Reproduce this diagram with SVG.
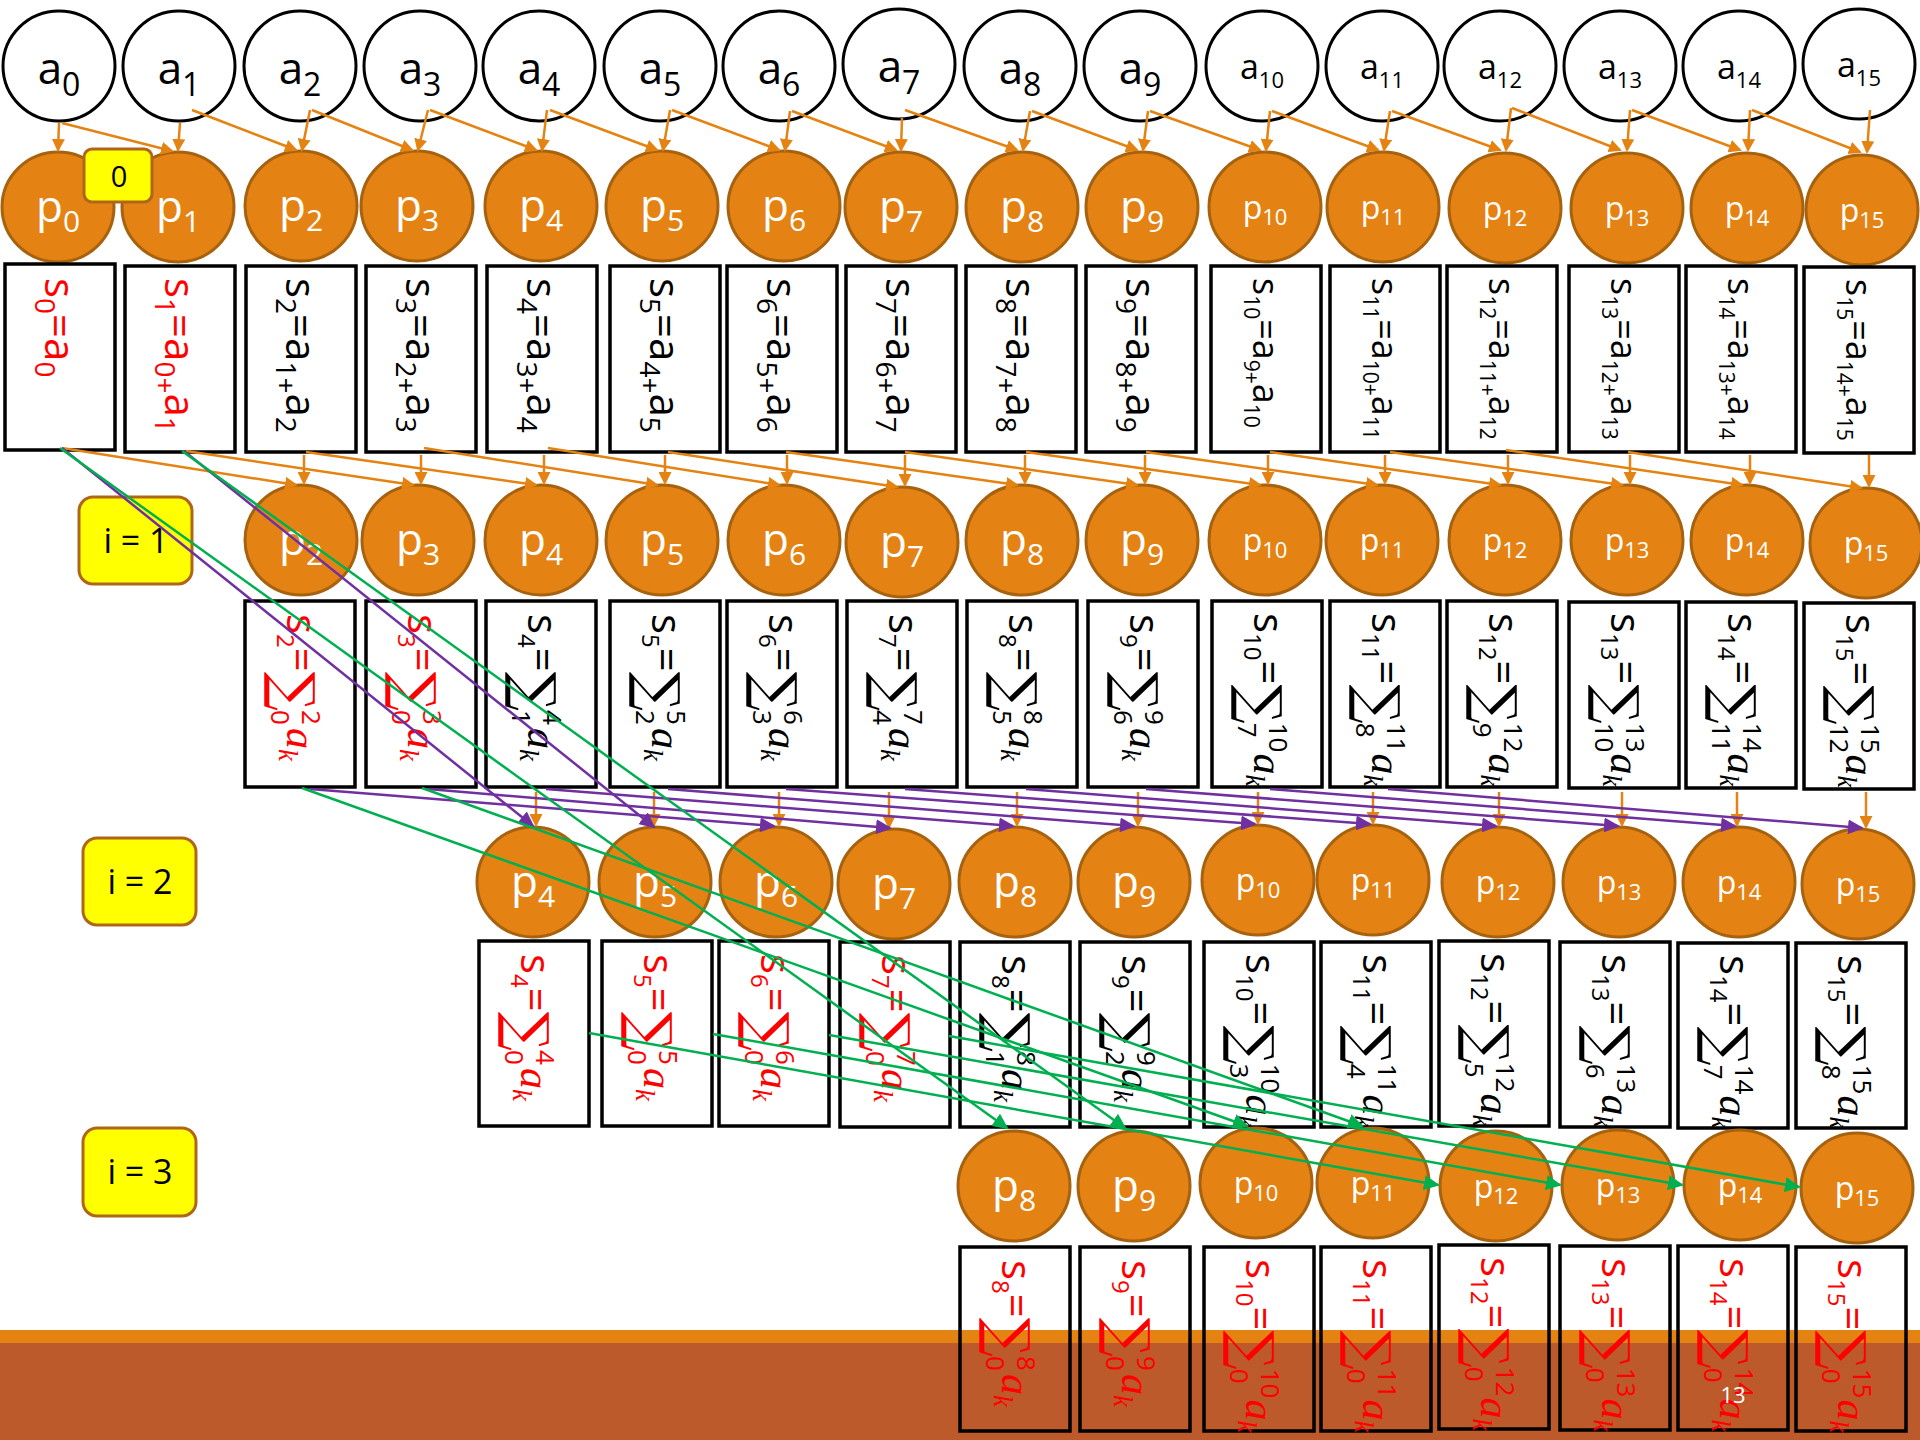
<svg xmlns="http://www.w3.org/2000/svg" width="1920" height="1440" viewBox="0 0 1920 1440">
<defs>
<style>
text{font-family:"Open Sans","Liberation Sans",sans-serif}
.ac{fill:#fff;stroke:#000;stroke-width:3}
.pc{fill:#E48314;stroke:#A6620F;stroke-width:3}
.bx{fill:none;stroke:#000;stroke-width:3.5}
.yl{fill:#FFFF00;stroke:#B0661A;stroke-width:3}
.ta{font-size:44px;fill:#000;text-anchor:middle}
.ta .s{font-size:32px}
.ta2{font-size:34px;fill:#000;text-anchor:middle}
.ta2 .s{font-size:22px}
.tp{font-size:44px;fill:#fff;text-anchor:middle}
.tp .s{font-size:30px}
.tp2{font-size:32px;fill:#fff;text-anchor:middle}
.tp2 .s{font-size:22px}
.r1{font-size:42px;fill:#000}
.r1 .sb{font-size:28px}
.r1b{font-size:36px;fill:#000}
.r1b .sb{font-size:21px}
.sm{font-size:42px;fill:#000}
.sm .sb{font-size:24px}
.sm .lm{font-size:26px}
.red{fill:#F00}
.sg{font-family:"DejaVu Serif",serif;font-size:55px}
.ai{font-family:"Liberation Serif",serif;font-style:italic;font-size:42px}
.ki{font-family:"Liberation Serif",serif;font-style:italic;font-size:27px}
.yt{font-size:34px;fill:#000;text-anchor:middle}
.co{fill:none;stroke:#E48312;stroke-width:2.5;marker-end:url(#mo)}
.cp{fill:none;stroke:#7030A0;stroke-width:2.5;marker-end:url(#mp)}
.cg{fill:none;stroke:#00B050;stroke-width:2.5;marker-end:url(#mg)}
</style>
<marker id="mo" viewBox="0 0 13 13" refX="11" refY="6.5" markerWidth="13" markerHeight="13" markerUnits="userSpaceOnUse" orient="auto"><path d="M0,0 L13,6.5 L0,13 z" fill="#E48312"/></marker>
<marker id="mp" viewBox="0 0 16 15" refX="14" refY="7.5" markerWidth="16" markerHeight="15" markerUnits="userSpaceOnUse" orient="auto"><path d="M0,0 L16,7.5 L0,15 z" fill="#7030A0"/></marker>
<marker id="mg" viewBox="0 0 16 15" refX="14" refY="7.5" markerWidth="16" markerHeight="15" markerUnits="userSpaceOnUse" orient="auto"><path d="M0,0 L16,7.5 L0,15 z" fill="#00B050"/></marker>
</defs>
<rect x="0" y="0" width="1920" height="1440" fill="#fff"/>
<g id="footer">
<rect x="0" y="1330" width="1920" height="14" fill="#E48312"/>
<rect x="0" y="1343" width="1920" height="97" fill="#BC5A2B"/>
</g>

<g id="row-a">
<g id="a0"><ellipse class="ac" cx="59" cy="66" rx="56" ry="55"/><text class="ta" x="59" y="84">a<tspan class="s" dy="12">0</tspan></text></g>
<g id="a1"><ellipse class="ac" cx="179" cy="66" rx="56" ry="55"/><text class="ta" x="179" y="84">a<tspan class="s" dy="12">1</tspan></text></g>
<g id="a2"><ellipse class="ac" cx="300" cy="66" rx="56" ry="55"/><text class="ta" x="300" y="84">a<tspan class="s" dy="12">2</tspan></text></g>
<g id="a3"><ellipse class="ac" cx="420" cy="66" rx="56" ry="55"/><text class="ta" x="420" y="84">a<tspan class="s" dy="12">3</tspan></text></g>
<g id="a4"><ellipse class="ac" cx="539" cy="66" rx="56" ry="55"/><text class="ta" x="539" y="84">a<tspan class="s" dy="12">4</tspan></text></g>
<g id="a5"><ellipse class="ac" cx="660" cy="66" rx="56" ry="55"/><text class="ta" x="660" y="84">a<tspan class="s" dy="12">5</tspan></text></g>
<g id="a6"><ellipse class="ac" cx="779" cy="66" rx="56" ry="55"/><text class="ta" x="779" y="84">a<tspan class="s" dy="12">6</tspan></text></g>
<g id="a7"><ellipse class="ac" cx="899" cy="64" rx="56" ry="55"/><text class="ta" x="899" y="82">a<tspan class="s" dy="12">7</tspan></text></g>
<g id="a8"><ellipse class="ac" cx="1020" cy="66" rx="56" ry="55"/><text class="ta" x="1020" y="84">a<tspan class="s" dy="12">8</tspan></text></g>
<g id="a9"><ellipse class="ac" cx="1140" cy="66" rx="56" ry="55"/><text class="ta" x="1140" y="84">a<tspan class="s" dy="12">9</tspan></text></g>
<g id="a10"><ellipse class="ac" cx="1262" cy="66" rx="56" ry="55"/><text class="ta2" x="1262" y="79">a<tspan class="s" dy="9">10</tspan></text></g>
<g id="a11"><ellipse class="ac" cx="1382" cy="66" rx="56" ry="55"/><text class="ta2" x="1382" y="79">a<tspan class="s" dy="9">11</tspan></text></g>
<g id="a12"><ellipse class="ac" cx="1500" cy="66" rx="56" ry="55"/><text class="ta2" x="1500" y="79">a<tspan class="s" dy="9">12</tspan></text></g>
<g id="a13"><ellipse class="ac" cx="1620" cy="66" rx="56" ry="55"/><text class="ta2" x="1620" y="79">a<tspan class="s" dy="9">13</tspan></text></g>
<g id="a14"><ellipse class="ac" cx="1739" cy="66" rx="56" ry="55"/><text class="ta2" x="1739" y="79">a<tspan class="s" dy="9">14</tspan></text></g>
<g id="a15"><ellipse class="ac" cx="1859" cy="64" rx="56" ry="55"/><text class="ta2" x="1859" y="77">a<tspan class="s" dy="9">15</tspan></text></g>
</g>

<g id="row0-p">
<g id="p0-0"><ellipse class="pc" cx="58" cy="207" rx="56" ry="55"/><text class="tp" x="58" y="222">p<tspan class="s" dy="10">0</tspan></text></g>
<g id="p0-1"><ellipse class="pc" cx="178" cy="207" rx="56" ry="55"/><text class="tp" x="178" y="222">p<tspan class="s" dy="10">1</tspan></text></g>
<g id="p0-2"><ellipse class="pc" cx="301" cy="206" rx="56" ry="55"/><text class="tp" x="301" y="221">p<tspan class="s" dy="10">2</tspan></text></g>
<g id="p0-3"><ellipse class="pc" cx="417" cy="206" rx="56" ry="55"/><text class="tp" x="417" y="221">p<tspan class="s" dy="10">3</tspan></text></g>
<g id="p0-4"><ellipse class="pc" cx="541" cy="206" rx="56" ry="55"/><text class="tp" x="541" y="221">p<tspan class="s" dy="10">4</tspan></text></g>
<g id="p0-5"><ellipse class="pc" cx="662" cy="206" rx="56" ry="55"/><text class="tp" x="662" y="221">p<tspan class="s" dy="10">5</tspan></text></g>
<g id="p0-6"><ellipse class="pc" cx="784" cy="206" rx="56" ry="55"/><text class="tp" x="784" y="221">p<tspan class="s" dy="10">6</tspan></text></g>
<g id="p0-7"><ellipse class="pc" cx="901" cy="207" rx="56" ry="55"/><text class="tp" x="901" y="222">p<tspan class="s" dy="10">7</tspan></text></g>
<g id="p0-8"><ellipse class="pc" cx="1022" cy="207" rx="56" ry="55"/><text class="tp" x="1022" y="222">p<tspan class="s" dy="10">8</tspan></text></g>
<g id="p0-9"><ellipse class="pc" cx="1142" cy="207" rx="56" ry="55"/><text class="tp" x="1142" y="222">p<tspan class="s" dy="10">9</tspan></text></g>
<g id="p0-10"><ellipse class="pc" cx="1265" cy="207" rx="56" ry="55"/><text class="tp2" x="1265" y="219">p<tspan class="s" dy="6">10</tspan></text></g>
<g id="p0-11"><ellipse class="pc" cx="1383" cy="207" rx="56" ry="55"/><text class="tp2" x="1383" y="219">p<tspan class="s" dy="6">11</tspan></text></g>
<g id="p0-12"><ellipse class="pc" cx="1505" cy="208" rx="56" ry="55"/><text class="tp2" x="1505" y="220">p<tspan class="s" dy="6">12</tspan></text></g>
<g id="p0-13"><ellipse class="pc" cx="1627" cy="208" rx="56" ry="55"/><text class="tp2" x="1627" y="220">p<tspan class="s" dy="6">13</tspan></text></g>
<g id="p0-14"><ellipse class="pc" cx="1747" cy="208" rx="56" ry="55"/><text class="tp2" x="1747" y="220">p<tspan class="s" dy="6">14</tspan></text></g>
<g id="p0-15"><ellipse class="pc" cx="1862" cy="210" rx="56" ry="55"/><text class="tp2" x="1862" y="222">p<tspan class="s" dy="6">15</tspan></text></g>
</g>

<g id="row0-s">
<g id="s0-0"><rect class="bx" x="5" y="264" width="110" height="186"/><text class="r1 red" transform="translate(45,278) rotate(90)">s<tspan class="sb" y="10">0</tspan><tspan y="0">=a</tspan><tspan class="sb" y="10">0</tspan></text></g>
<g id="s0-1"><rect class="bx" x="125" y="266" width="110" height="186"/><text class="r1 red" transform="translate(165,278) rotate(90)">s<tspan class="sb" y="10">1</tspan><tspan y="0">=a</tspan><tspan class="sb" y="10">0+</tspan><tspan y="0">a</tspan><tspan class="sb" y="10">1</tspan></text></g>
<g id="s0-2"><rect class="bx" x="246" y="266" width="110" height="186"/><text class="r1" transform="translate(286,278) rotate(90)">s<tspan class="sb" y="10">2</tspan><tspan y="0">=a</tspan><tspan class="sb" y="10">1+</tspan><tspan y="0">a</tspan><tspan class="sb" y="10">2</tspan></text></g>
<g id="s0-3"><rect class="bx" x="366" y="266" width="110" height="186"/><text class="r1" transform="translate(406,278) rotate(90)">s<tspan class="sb" y="10">3</tspan><tspan y="0">=a</tspan><tspan class="sb" y="10">2+</tspan><tspan y="0">a</tspan><tspan class="sb" y="10">3</tspan></text></g>
<g id="s0-4"><rect class="bx" x="487" y="266" width="110" height="186"/><text class="r1" transform="translate(527,278) rotate(90)">s<tspan class="sb" y="10">4</tspan><tspan y="0">=a</tspan><tspan class="sb" y="10">3+</tspan><tspan y="0">a</tspan><tspan class="sb" y="10">4</tspan></text></g>
<g id="s0-5"><rect class="bx" x="610" y="266" width="110" height="186"/><text class="r1" transform="translate(650,278) rotate(90)">s<tspan class="sb" y="10">5</tspan><tspan y="0">=a</tspan><tspan class="sb" y="10">4+</tspan><tspan y="0">a</tspan><tspan class="sb" y="10">5</tspan></text></g>
<g id="s0-6"><rect class="bx" x="727" y="266" width="110" height="186"/><text class="r1" transform="translate(767,278) rotate(90)">s<tspan class="sb" y="10">6</tspan><tspan y="0">=a</tspan><tspan class="sb" y="10">5+</tspan><tspan y="0">a</tspan><tspan class="sb" y="10">6</tspan></text></g>
<g id="s0-7"><rect class="bx" x="846" y="266" width="110" height="186"/><text class="r1" transform="translate(886,278) rotate(90)">s<tspan class="sb" y="10">7</tspan><tspan y="0">=a</tspan><tspan class="sb" y="10">6+</tspan><tspan y="0">a</tspan><tspan class="sb" y="10">7</tspan></text></g>
<g id="s0-8"><rect class="bx" x="966" y="266" width="110" height="186"/><text class="r1" transform="translate(1006,278) rotate(90)">s<tspan class="sb" y="10">8</tspan><tspan y="0">=a</tspan><tspan class="sb" y="10">7+</tspan><tspan y="0">a</tspan><tspan class="sb" y="10">8</tspan></text></g>
<g id="s0-9"><rect class="bx" x="1086" y="266" width="110" height="186"/><text class="r1" transform="translate(1126,278) rotate(90)">s<tspan class="sb" y="10">9</tspan><tspan y="0">=a</tspan><tspan class="sb" y="10">8+</tspan><tspan y="0">a</tspan><tspan class="sb" y="10">9</tspan></text></g>
<g id="s0-10"><rect class="bx" x="1211" y="266" width="110" height="186"/><text class="r1b" transform="translate(1253,278) rotate(90)">s<tspan class="sb" y="9">10</tspan><tspan y="0">=a</tspan><tspan class="sb" y="9">9+</tspan><tspan y="0">a</tspan><tspan class="sb" y="9">10</tspan></text></g>
<g id="s0-11"><rect class="bx" x="1330" y="266" width="110" height="186"/><text class="r1b" transform="translate(1372,278) rotate(90)">s<tspan class="sb" y="9">11</tspan><tspan y="0">=a</tspan><tspan class="sb" y="9">10+</tspan><tspan y="0">a</tspan><tspan class="sb" y="9">11</tspan></text></g>
<g id="s0-12"><rect class="bx" x="1447" y="266" width="110" height="186"/><text class="r1b" transform="translate(1489,278) rotate(90)">s<tspan class="sb" y="9">12</tspan><tspan y="0">=a</tspan><tspan class="sb" y="9">11+</tspan><tspan y="0">a</tspan><tspan class="sb" y="9">12</tspan></text></g>
<g id="s0-13"><rect class="bx" x="1569" y="266" width="110" height="186"/><text class="r1b" transform="translate(1611,278) rotate(90)">s<tspan class="sb" y="9">13</tspan><tspan y="0">=a</tspan><tspan class="sb" y="9">12+</tspan><tspan y="0">a</tspan><tspan class="sb" y="9">13</tspan></text></g>
<g id="s0-14"><rect class="bx" x="1686" y="266" width="110" height="186"/><text class="r1b" transform="translate(1728,278) rotate(90)">s<tspan class="sb" y="9">14</tspan><tspan y="0">=a</tspan><tspan class="sb" y="9">13+</tspan><tspan y="0">a</tspan><tspan class="sb" y="9">14</tspan></text></g>
<g id="s0-15"><rect class="bx" x="1804" y="267" width="110" height="186"/><text class="r1b" transform="translate(1846,279) rotate(90)">s<tspan class="sb" y="9">15</tspan><tspan y="0">=a</tspan><tspan class="sb" y="9">14+</tspan><tspan y="0">a</tspan><tspan class="sb" y="9">15</tspan></text></g>
</g>

<g id="row1-p">
<g id="p1-2"><ellipse class="pc" cx="301" cy="540" rx="56" ry="55"/><text class="tp" x="301" y="555">p<tspan class="s" dy="10">2</tspan></text></g>
<g id="p1-3"><ellipse class="pc" cx="418" cy="540" rx="56" ry="55"/><text class="tp" x="418" y="555">p<tspan class="s" dy="10">3</tspan></text></g>
<g id="p1-4"><ellipse class="pc" cx="541" cy="540" rx="56" ry="55"/><text class="tp" x="541" y="555">p<tspan class="s" dy="10">4</tspan></text></g>
<g id="p1-5"><ellipse class="pc" cx="662" cy="540" rx="56" ry="55"/><text class="tp" x="662" y="555">p<tspan class="s" dy="10">5</tspan></text></g>
<g id="p1-6"><ellipse class="pc" cx="784" cy="540" rx="56" ry="55"/><text class="tp" x="784" y="555">p<tspan class="s" dy="10">6</tspan></text></g>
<g id="p1-7"><ellipse class="pc" cx="902" cy="542" rx="56" ry="55"/><text class="tp" x="902" y="557">p<tspan class="s" dy="10">7</tspan></text></g>
<g id="p1-8"><ellipse class="pc" cx="1022" cy="540" rx="56" ry="55"/><text class="tp" x="1022" y="555">p<tspan class="s" dy="10">8</tspan></text></g>
<g id="p1-9"><ellipse class="pc" cx="1142" cy="540" rx="56" ry="55"/><text class="tp" x="1142" y="555">p<tspan class="s" dy="10">9</tspan></text></g>
<g id="p1-10"><ellipse class="pc" cx="1265" cy="540" rx="56" ry="55"/><text class="tp2" x="1265" y="552">p<tspan class="s" dy="6">10</tspan></text></g>
<g id="p1-11"><ellipse class="pc" cx="1382" cy="540" rx="56" ry="55"/><text class="tp2" x="1382" y="552">p<tspan class="s" dy="6">11</tspan></text></g>
<g id="p1-12"><ellipse class="pc" cx="1505" cy="540" rx="56" ry="55"/><text class="tp2" x="1505" y="552">p<tspan class="s" dy="6">12</tspan></text></g>
<g id="p1-13"><ellipse class="pc" cx="1627" cy="540" rx="56" ry="55"/><text class="tp2" x="1627" y="552">p<tspan class="s" dy="6">13</tspan></text></g>
<g id="p1-14"><ellipse class="pc" cx="1747" cy="540" rx="56" ry="55"/><text class="tp2" x="1747" y="552">p<tspan class="s" dy="6">14</tspan></text></g>
<g id="p1-15"><ellipse class="pc" cx="1866" cy="543" rx="56" ry="55"/><text class="tp2" x="1866" y="555">p<tspan class="s" dy="6">15</tspan></text></g>
</g>

<g id="row1-s">
<g id="s1-2"><rect class="bx" x="245" y="601" width="110" height="186"/><text class="sm red" transform="translate(287,614) rotate(90)">s<tspan class="sb" y="10">2</tspan><tspan y="0">=</tspan><tspan class="sg" y="12">∑</tspan><tspan class="lm" dx="-1" y="16">0</tspan><tspan class="lm" dx="-14.9" y="-15">2</tspan><tspan class="ai" dx="3" y="0">a</tspan><tspan class="ki" y="8">k</tspan></text></g>
<g id="s1-3"><rect class="bx" x="366" y="601" width="110" height="186"/><text class="sm red" transform="translate(408,614) rotate(90)">s<tspan class="sb" y="10">3</tspan><tspan y="0">=</tspan><tspan class="sg" y="12">∑</tspan><tspan class="lm" dx="-1" y="16">0</tspan><tspan class="lm" dx="-14.9" y="-15">3</tspan><tspan class="ai" dx="3" y="0">a</tspan><tspan class="ki" y="8">k</tspan></text></g>
<g id="s1-4"><rect class="bx" x="486" y="601" width="110" height="186"/><text class="sm" transform="translate(528,614) rotate(90)">s<tspan class="sb" y="10">4</tspan><tspan y="0">=</tspan><tspan class="sg" y="12">∑</tspan><tspan class="lm" dx="-1" y="16">1</tspan><tspan class="lm" dx="-14.9" y="-15">4</tspan><tspan class="ai" dx="3" y="0">a</tspan><tspan class="ki" y="8">k</tspan></text></g>
<g id="s1-5"><rect class="bx" x="610" y="601" width="110" height="186"/><text class="sm" transform="translate(652,614) rotate(90)">s<tspan class="sb" y="10">5</tspan><tspan y="0">=</tspan><tspan class="sg" y="12">∑</tspan><tspan class="lm" dx="-1" y="16">2</tspan><tspan class="lm" dx="-14.9" y="-15">5</tspan><tspan class="ai" dx="3" y="0">a</tspan><tspan class="ki" y="8">k</tspan></text></g>
<g id="s1-6"><rect class="bx" x="727" y="601" width="110" height="186"/><text class="sm" transform="translate(769,614) rotate(90)">s<tspan class="sb" y="10">6</tspan><tspan y="0">=</tspan><tspan class="sg" y="12">∑</tspan><tspan class="lm" dx="-1" y="16">3</tspan><tspan class="lm" dx="-14.9" y="-15">6</tspan><tspan class="ai" dx="3" y="0">a</tspan><tspan class="ki" y="8">k</tspan></text></g>
<g id="s1-7"><rect class="bx" x="847" y="601" width="110" height="186"/><text class="sm" transform="translate(889,614) rotate(90)">s<tspan class="sb" y="10">7</tspan><tspan y="0">=</tspan><tspan class="sg" y="12">∑</tspan><tspan class="lm" dx="-1" y="16">4</tspan><tspan class="lm" dx="-14.9" y="-15">7</tspan><tspan class="ai" dx="3" y="0">a</tspan><tspan class="ki" y="8">k</tspan></text></g>
<g id="s1-8"><rect class="bx" x="967" y="601" width="110" height="186"/><text class="sm" transform="translate(1009,614) rotate(90)">s<tspan class="sb" y="10">8</tspan><tspan y="0">=</tspan><tspan class="sg" y="12">∑</tspan><tspan class="lm" dx="-1" y="16">5</tspan><tspan class="lm" dx="-14.9" y="-15">8</tspan><tspan class="ai" dx="3" y="0">a</tspan><tspan class="ki" y="8">k</tspan></text></g>
<g id="s1-9"><rect class="bx" x="1088" y="601" width="110" height="186"/><text class="sm" transform="translate(1130,614) rotate(90)">s<tspan class="sb" y="10">9</tspan><tspan y="0">=</tspan><tspan class="sg" y="12">∑</tspan><tspan class="lm" dx="-1" y="16">6</tspan><tspan class="lm" dx="-14.9" y="-15">9</tspan><tspan class="ai" dx="3" y="0">a</tspan><tspan class="ki" y="8">k</tspan></text></g>
<g id="s1-10"><rect class="bx" x="1212" y="601" width="110" height="186"/><text class="sm" transform="translate(1254,613) rotate(90)">s<tspan class="sb" y="10">10</tspan><tspan y="0">=</tspan><tspan class="sg" y="12">∑</tspan><tspan class="lm" dx="-1" y="16">7</tspan><tspan class="lm" dx="-14.9" y="-15">10</tspan><tspan class="ai" dx="1" y="0">a</tspan><tspan class="ki" y="8">k</tspan></text></g>
<g id="s1-11"><rect class="bx" x="1330" y="601" width="110" height="186"/><text class="sm" transform="translate(1372,613) rotate(90)">s<tspan class="sb" y="10">11</tspan><tspan y="0">=</tspan><tspan class="sg" y="12">∑</tspan><tspan class="lm" dx="-1" y="16">8</tspan><tspan class="lm" dx="-14.9" y="-15">11</tspan><tspan class="ai" dx="1" y="0">a</tspan><tspan class="ki" y="8">k</tspan></text></g>
<g id="s1-12"><rect class="bx" x="1447" y="601" width="110" height="186"/><text class="sm" transform="translate(1489,613) rotate(90)">s<tspan class="sb" y="10">12</tspan><tspan y="0">=</tspan><tspan class="sg" y="12">∑</tspan><tspan class="lm" dx="-1" y="16">9</tspan><tspan class="lm" dx="-14.9" y="-15">12</tspan><tspan class="ai" dx="1" y="0">a</tspan><tspan class="ki" y="8">k</tspan></text></g>
<g id="s1-13"><rect class="bx" x="1569" y="602" width="110" height="186"/><text class="sm" transform="translate(1611,613) rotate(90)">s<tspan class="sb" y="10">13</tspan><tspan y="0">=</tspan><tspan class="sg" y="12">∑</tspan><tspan class="lm" dx="-1" y="16">10</tspan><tspan class="lm" dx="-29.7" y="-15">13</tspan><tspan class="ai" dx="1" y="0">a</tspan><tspan class="ki" y="8">k</tspan></text></g>
<g id="s1-14"><rect class="bx" x="1686" y="602" width="110" height="186"/><text class="sm" transform="translate(1728,613) rotate(90)">s<tspan class="sb" y="10">14</tspan><tspan y="0">=</tspan><tspan class="sg" y="12">∑</tspan><tspan class="lm" dx="-1" y="16">11</tspan><tspan class="lm" dx="-29.7" y="-15">14</tspan><tspan class="ai" dx="1" y="0">a</tspan><tspan class="ki" y="8">k</tspan></text></g>
<g id="s1-15"><rect class="bx" x="1804" y="603" width="110" height="186"/><text class="sm" transform="translate(1846,614) rotate(90)">s<tspan class="sb" y="10">15</tspan><tspan y="0">=</tspan><tspan class="sg" y="12">∑</tspan><tspan class="lm" dx="-1" y="16">12</tspan><tspan class="lm" dx="-29.7" y="-15">15</tspan><tspan class="ai" dx="1" y="0">a</tspan><tspan class="ki" y="8">k</tspan></text></g>
</g>

<g id="row2-p">
<g id="p2-4"><ellipse class="pc" cx="533" cy="882" rx="56" ry="55"/><text class="tp" x="533" y="897">p<tspan class="s" dy="10">4</tspan></text></g>
<g id="p2-5"><ellipse class="pc" cx="655" cy="882" rx="56" ry="55"/><text class="tp" x="655" y="897">p<tspan class="s" dy="10">5</tspan></text></g>
<g id="p2-6"><ellipse class="pc" cx="776" cy="882" rx="56" ry="55"/><text class="tp" x="776" y="897">p<tspan class="s" dy="10">6</tspan></text></g>
<g id="p2-7"><ellipse class="pc" cx="894" cy="884" rx="56" ry="55"/><text class="tp" x="894" y="899">p<tspan class="s" dy="10">7</tspan></text></g>
<g id="p2-8"><ellipse class="pc" cx="1015" cy="882" rx="56" ry="55"/><text class="tp" x="1015" y="897">p<tspan class="s" dy="10">8</tspan></text></g>
<g id="p2-9"><ellipse class="pc" cx="1134" cy="882" rx="56" ry="55"/><text class="tp" x="1134" y="897">p<tspan class="s" dy="10">9</tspan></text></g>
<g id="p2-10"><ellipse class="pc" cx="1258" cy="880" rx="56" ry="55"/><text class="tp2" x="1258" y="892">p<tspan class="s" dy="6">10</tspan></text></g>
<g id="p2-11"><ellipse class="pc" cx="1373" cy="880" rx="56" ry="55"/><text class="tp2" x="1373" y="892">p<tspan class="s" dy="6">11</tspan></text></g>
<g id="p2-12"><ellipse class="pc" cx="1498" cy="882" rx="56" ry="55"/><text class="tp2" x="1498" y="894">p<tspan class="s" dy="6">12</tspan></text></g>
<g id="p2-13"><ellipse class="pc" cx="1619" cy="882" rx="56" ry="55"/><text class="tp2" x="1619" y="894">p<tspan class="s" dy="6">13</tspan></text></g>
<g id="p2-14"><ellipse class="pc" cx="1739" cy="882" rx="56" ry="55"/><text class="tp2" x="1739" y="894">p<tspan class="s" dy="6">14</tspan></text></g>
<g id="p2-15"><ellipse class="pc" cx="1858" cy="884" rx="56" ry="55"/><text class="tp2" x="1858" y="896">p<tspan class="s" dy="6">15</tspan></text></g>
</g>

<g id="row2-s">
<g id="s2-4"><rect class="bx" x="479" y="941" width="110" height="185"/><text class="sm red" transform="translate(521,954) rotate(90)">s<tspan class="sb" y="10">4</tspan><tspan y="0">=</tspan><tspan class="sg" y="12">∑</tspan><tspan class="lm" dx="-1" y="16">0</tspan><tspan class="lm" dx="-14.9" y="-15">4</tspan><tspan class="ai" dx="3" y="0">a</tspan><tspan class="ki" y="8">k</tspan></text></g>
<g id="s2-5"><rect class="bx" x="602" y="941" width="110" height="185"/><text class="sm red" transform="translate(644,954) rotate(90)">s<tspan class="sb" y="10">5</tspan><tspan y="0">=</tspan><tspan class="sg" y="12">∑</tspan><tspan class="lm" dx="-1" y="16">0</tspan><tspan class="lm" dx="-14.9" y="-15">5</tspan><tspan class="ai" dx="3" y="0">a</tspan><tspan class="ki" y="8">k</tspan></text></g>
<g id="s2-6"><rect class="bx" x="719" y="941" width="110" height="185"/><text class="sm red" transform="translate(761,954) rotate(90)">s<tspan class="sb" y="10">6</tspan><tspan y="0">=</tspan><tspan class="sg" y="12">∑</tspan><tspan class="lm" dx="-1" y="16">0</tspan><tspan class="lm" dx="-14.9" y="-15">6</tspan><tspan class="ai" dx="3" y="0">a</tspan><tspan class="ki" y="8">k</tspan></text></g>
<g id="s2-7"><rect class="bx" x="840" y="942" width="110" height="185"/><text class="sm red" transform="translate(882,955) rotate(90)">s<tspan class="sb" y="10">7</tspan><tspan y="0">=</tspan><tspan class="sg" y="12">∑</tspan><tspan class="lm" dx="-1" y="16">0</tspan><tspan class="lm" dx="-14.9" y="-15">7</tspan><tspan class="ai" dx="3" y="0">a</tspan><tspan class="ki" y="8">k</tspan></text></g>
<g id="s2-8"><rect class="bx" x="960" y="942" width="110" height="185"/><text class="sm" transform="translate(1002,955) rotate(90)">s<tspan class="sb" y="10">8</tspan><tspan y="0">=</tspan><tspan class="sg" y="12">∑</tspan><tspan class="lm" dx="-1" y="16">1</tspan><tspan class="lm" dx="-14.9" y="-15">8</tspan><tspan class="ai" dx="3" y="0">a</tspan><tspan class="ki" y="8">k</tspan></text></g>
<g id="s2-9"><rect class="bx" x="1080" y="942" width="110" height="185"/><text class="sm" transform="translate(1122,955) rotate(90)">s<tspan class="sb" y="10">9</tspan><tspan y="0">=</tspan><tspan class="sg" y="12">∑</tspan><tspan class="lm" dx="-1" y="16">2</tspan><tspan class="lm" dx="-14.9" y="-15">9</tspan><tspan class="ai" dx="3" y="0">a</tspan><tspan class="ki" y="8">k</tspan></text></g>
<g id="s2-10"><rect class="bx" x="1204" y="942" width="110" height="185"/><text class="sm" transform="translate(1246,954) rotate(90)">s<tspan class="sb" y="10">10</tspan><tspan y="0">=</tspan><tspan class="sg" y="12">∑</tspan><tspan class="lm" dx="-1" y="16">3</tspan><tspan class="lm" dx="-14.9" y="-15">10</tspan><tspan class="ai" dx="1" y="0">a</tspan><tspan class="ki" y="8">k</tspan></text></g>
<g id="s2-11"><rect class="bx" x="1321" y="942" width="110" height="185"/><text class="sm" transform="translate(1363,954) rotate(90)">s<tspan class="sb" y="10">11</tspan><tspan y="0">=</tspan><tspan class="sg" y="12">∑</tspan><tspan class="lm" dx="-1" y="16">4</tspan><tspan class="lm" dx="-14.9" y="-15">11</tspan><tspan class="ai" dx="1" y="0">a</tspan><tspan class="ki" y="8">k</tspan></text></g>
<g id="s2-12"><rect class="bx" x="1439" y="941" width="110" height="185"/><text class="sm" transform="translate(1481,953) rotate(90)">s<tspan class="sb" y="10">12</tspan><tspan y="0">=</tspan><tspan class="sg" y="12">∑</tspan><tspan class="lm" dx="-1" y="16">5</tspan><tspan class="lm" dx="-14.9" y="-15">12</tspan><tspan class="ai" dx="1" y="0">a</tspan><tspan class="ki" y="8">k</tspan></text></g>
<g id="s2-13"><rect class="bx" x="1560" y="942" width="110" height="185"/><text class="sm" transform="translate(1602,954) rotate(90)">s<tspan class="sb" y="10">13</tspan><tspan y="0">=</tspan><tspan class="sg" y="12">∑</tspan><tspan class="lm" dx="-1" y="16">6</tspan><tspan class="lm" dx="-14.9" y="-15">13</tspan><tspan class="ai" dx="1" y="0">a</tspan><tspan class="ki" y="8">k</tspan></text></g>
<g id="s2-14"><rect class="bx" x="1678" y="943" width="110" height="185"/><text class="sm" transform="translate(1720,955) rotate(90)">s<tspan class="sb" y="10">14</tspan><tspan y="0">=</tspan><tspan class="sg" y="12">∑</tspan><tspan class="lm" dx="-1" y="16">7</tspan><tspan class="lm" dx="-14.9" y="-15">14</tspan><tspan class="ai" dx="1" y="0">a</tspan><tspan class="ki" y="8">k</tspan></text></g>
<g id="s2-15"><rect class="bx" x="1796" y="943" width="110" height="185"/><text class="sm" transform="translate(1838,955) rotate(90)">s<tspan class="sb" y="10">15</tspan><tspan y="0">=</tspan><tspan class="sg" y="12">∑</tspan><tspan class="lm" dx="-1" y="16">8</tspan><tspan class="lm" dx="-14.9" y="-15">15</tspan><tspan class="ai" dx="1" y="0">a</tspan><tspan class="ki" y="8">k</tspan></text></g>
</g>

<g id="row3-p">
<g id="p3-8"><ellipse class="pc" cx="1014" cy="1186" rx="56" ry="55"/><text class="tp" x="1014" y="1201">p<tspan class="s" dy="10">8</tspan></text></g>
<g id="p3-9"><ellipse class="pc" cx="1134" cy="1186" rx="56" ry="55"/><text class="tp" x="1134" y="1201">p<tspan class="s" dy="10">9</tspan></text></g>
<g id="p3-10"><ellipse class="pc" cx="1256" cy="1183" rx="56" ry="55"/><text class="tp2" x="1256" y="1195">p<tspan class="s" dy="6">10</tspan></text></g>
<g id="p3-11"><ellipse class="pc" cx="1373" cy="1183" rx="56" ry="55"/><text class="tp2" x="1373" y="1195">p<tspan class="s" dy="6">11</tspan></text></g>
<g id="p3-12"><ellipse class="pc" cx="1496" cy="1186" rx="56" ry="55"/><text class="tp2" x="1496" y="1198">p<tspan class="s" dy="6">12</tspan></text></g>
<g id="p3-13"><ellipse class="pc" cx="1618" cy="1185" rx="56" ry="55"/><text class="tp2" x="1618" y="1197">p<tspan class="s" dy="6">13</tspan></text></g>
<g id="p3-14"><ellipse class="pc" cx="1740" cy="1185" rx="56" ry="55"/><text class="tp2" x="1740" y="1197">p<tspan class="s" dy="6">14</tspan></text></g>
<g id="p3-15"><ellipse class="pc" cx="1857" cy="1188" rx="56" ry="55"/><text class="tp2" x="1857" y="1200">p<tspan class="s" dy="6">15</tspan></text></g>
</g>

<g id="row3-s">
<g id="s3-8"><rect class="bx" x="960" y="1247" width="110" height="184"/><text class="sm red" transform="translate(1002,1260) rotate(90)">s<tspan class="sb" y="10">8</tspan><tspan y="0">=</tspan><tspan class="sg" y="12">∑</tspan><tspan class="lm" dx="-1" y="16">0</tspan><tspan class="lm" dx="-14.9" y="-15">8</tspan><tspan class="ai" dx="3" y="0">a</tspan><tspan class="ki" y="8">k</tspan></text></g>
<g id="s3-9"><rect class="bx" x="1080" y="1247" width="110" height="184"/><text class="sm red" transform="translate(1122,1260) rotate(90)">s<tspan class="sb" y="10">9</tspan><tspan y="0">=</tspan><tspan class="sg" y="12">∑</tspan><tspan class="lm" dx="-1" y="16">0</tspan><tspan class="lm" dx="-14.9" y="-15">9</tspan><tspan class="ai" dx="3" y="0">a</tspan><tspan class="ki" y="8">k</tspan></text></g>
<g id="s3-10"><rect class="bx" x="1204" y="1247" width="110" height="184"/><text class="sm red" transform="translate(1246,1259) rotate(90)">s<tspan class="sb" y="10">10</tspan><tspan y="0">=</tspan><tspan class="sg" y="12">∑</tspan><tspan class="lm" dx="-1" y="16">0</tspan><tspan class="lm" dx="-14.9" y="-15">10</tspan><tspan class="ai" dx="1" y="0">a</tspan><tspan class="ki" y="8">k</tspan></text></g>
<g id="s3-11"><rect class="bx" x="1321" y="1247" width="110" height="184"/><text class="sm red" transform="translate(1363,1259) rotate(90)">s<tspan class="sb" y="10">11</tspan><tspan y="0">=</tspan><tspan class="sg" y="12">∑</tspan><tspan class="lm" dx="-1" y="16">0</tspan><tspan class="lm" dx="-14.9" y="-15">11</tspan><tspan class="ai" dx="1" y="0">a</tspan><tspan class="ki" y="8">k</tspan></text></g>
<g id="s3-12"><rect class="bx" x="1439" y="1245" width="110" height="184"/><text class="sm red" transform="translate(1481,1257) rotate(90)">s<tspan class="sb" y="10">12</tspan><tspan y="0">=</tspan><tspan class="sg" y="12">∑</tspan><tspan class="lm" dx="-1" y="16">0</tspan><tspan class="lm" dx="-14.9" y="-15">12</tspan><tspan class="ai" dx="1" y="0">a</tspan><tspan class="ki" y="8">k</tspan></text></g>
<g id="s3-13"><rect class="bx" x="1560" y="1246" width="110" height="184"/><text class="sm red" transform="translate(1602,1258) rotate(90)">s<tspan class="sb" y="10">13</tspan><tspan y="0">=</tspan><tspan class="sg" y="12">∑</tspan><tspan class="lm" dx="-1" y="16">0</tspan><tspan class="lm" dx="-14.9" y="-15">13</tspan><tspan class="ai" dx="1" y="0">a</tspan><tspan class="ki" y="8">k</tspan></text></g>
<g id="s3-14"><rect class="bx" x="1678" y="1246" width="110" height="184"/><text class="sm red" transform="translate(1720,1258) rotate(90)">s<tspan class="sb" y="10">14</tspan><tspan y="0">=</tspan><tspan class="sg" y="12">∑</tspan><tspan class="lm" dx="-1" y="16">0</tspan><tspan class="lm" dx="-14.9" y="-15">14</tspan><tspan class="ai" dx="1" y="0">a</tspan><tspan class="ki" y="8">k</tspan></text></g>
<g id="s3-15"><rect class="bx" x="1796" y="1247" width="110" height="184"/><text class="sm red" transform="translate(1838,1259) rotate(90)">s<tspan class="sb" y="10">15</tspan><tspan y="0">=</tspan><tspan class="sg" y="12">∑</tspan><tspan class="lm" dx="-1" y="16">0</tspan><tspan class="lm" dx="-14.9" y="-15">15</tspan><tspan class="ai" dx="1" y="0">a</tspan><tspan class="ki" y="8">k</tspan></text></g>
</g>

<g id="labels">
<g id="lbl-0"><rect class="yl" x="84" y="149" width="68" height="53" rx="8"/><text class="yt" x="119" y="187" style="font-size:29px">0</text></g>
<g id="lbl-i1"><rect class="yl" x="79" y="497" width="113" height="87" rx="14"/><text class="yt" x="136" y="553">i = 1</text></g>
<g id="lbl-i2"><rect class="yl" x="83" y="838" width="113" height="87" rx="14"/><text class="yt" x="140" y="894">i = 2</text></g>
<g id="lbl-i3"><rect class="yl" x="83" y="1128" width="113" height="88" rx="14"/><text class="yt" x="140" y="1184">i = 3</text></g>
</g>

<g id="connectors">
<path class="co" d="M59,123 L58,150"/>
<path class="co" d="M180,123 L178,150"/>
<path class="co" d="M310,110 L302,150"/>
<path class="co" d="M428,110 L418,150"/>
<path class="co" d="M547,110 L542,150"/>
<path class="co" d="M670,110 L663,150"/>
<path class="co" d="M790,111 L785,150"/>
<path class="co" d="M902,118 L901,150"/>
<path class="co" d="M1030,111 L1023,150"/>
<path class="co" d="M1148,111 L1143,150"/>
<path class="co" d="M1270,111 L1266,150"/>
<path class="co" d="M1390,111 L1384,150"/>
<path class="co" d="M1511,108 L1506,150"/>
<path class="co" d="M1630,110 L1627,150"/>
<path class="co" d="M1750,110 L1748,150"/>
<path class="co" d="M1870,110 L1867,152"/>
<path class="co" d="M62,123 L172,151"/>
<path class="co" d="M192,110 L296,150"/>
<path class="co" d="M312,110 L412,150"/>
<path class="co" d="M430,110 L536,150"/>
<path class="co" d="M550,110 L657,150"/>
<path class="co" d="M672,110 L779,150"/>
<path class="co" d="M792,111 L896,150"/>
<path class="co" d="M905,110 L1017,150"/>
<path class="co" d="M1032,111 L1137,150"/>
<path class="co" d="M1150,111 L1260,150"/>
<path class="co" d="M1272,111 L1378,150"/>
<path class="co" d="M1392,111 L1500,150"/>
<path class="co" d="M1512,108 L1620,150"/>
<path class="co" d="M1632,110 L1740,150"/>
<path class="co" d="M1752,110 L1860,152"/>

<path class="co" d="M304,455 L304,483"/>
<path class="co" d="M421,455 L421,483"/>
<path class="co" d="M544,455 L544,483"/>
<path class="co" d="M665,455 L665,483"/>
<path class="co" d="M787,455 L787,483"/>
<path class="co" d="M905,455 L905,485"/>
<path class="co" d="M1025,455 L1025,483"/>
<path class="co" d="M1145,455 L1145,483"/>
<path class="co" d="M1268,455 L1268,483"/>
<path class="co" d="M1385,455 L1385,483"/>
<path class="co" d="M1508,455 L1508,483"/>
<path class="co" d="M1630,455 L1630,483"/>
<path class="co" d="M1750,455 L1750,483"/>
<path class="co" d="M1869,455 L1869,486"/>
<path class="co" d="M62,448 L296,485"/>
<path class="co" d="M186,451 L413,485"/>
<path class="co" d="M306,452 L536,485"/>
<path class="co" d="M424,448 L657,485"/>
<path class="co" d="M548,448 L779,485"/>
<path class="co" d="M668,452 L897,487"/>
<path class="co" d="M786,452 L1017,485"/>
<path class="co" d="M905,452 L1137,485"/>
<path class="co" d="M1026,452 L1260,485"/>
<path class="co" d="M1146,452 L1377,485"/>
<path class="co" d="M1270,452 L1500,485"/>
<path class="co" d="M1390,452 L1622,485"/>
<path class="co" d="M1506,450 L1742,485"/>
<path class="co" d="M1628,452 L1861,488"/>

<path class="co" d="M536,792 L536,825"/>
<path class="co" d="M654,792 L654,825"/>
<path class="co" d="M779,792 L779,825"/>
<path class="co" d="M889,792 L889,827"/>
<path class="co" d="M1017,792 L1017,825"/>
<path class="co" d="M1138,792 L1138,825"/>
<path class="co" d="M1258,792 L1258,823"/>
<path class="co" d="M1373,792 L1373,823"/>
<path class="co" d="M1499,792 L1499,825"/>
<path class="co" d="M1622,792 L1622,825"/>
<path class="co" d="M1737,792 L1737,825"/>
<path class="co" d="M1866,792 L1866,827"/>

<path class="cp" d="M62,448 L533,826"/>
<path class="cp" d="M184,451 L654,827"/>
<path class="cp" d="M310,789 L774,826"/>
<path class="cp" d="M428,789 L890,828"/>
<path class="cp" d="M546,789 L1013,826"/>
<path class="cp" d="M668,789 L1134,826"/>
<path class="cp" d="M786,789 L1255,824"/>
<path class="cp" d="M905,789 L1370,824"/>
<path class="cp" d="M1026,789 L1496,826"/>
<path class="cp" d="M1146,789 L1618,826"/>
<path class="cp" d="M1270,789 L1735,826"/>
<path class="cp" d="M1388,789 L1862,828"/>

<path class="cg" d="M60,448 L1007,1128"/>
<path class="cg" d="M182,451 L1125,1128"/>
<path class="cg" d="M302,788 L1247,1126"/>
<path class="cg" d="M422,788 L1362,1126"/>
<path class="cg" d="M589,1033 L1438,1185"/>
<path class="cg" d="M713,1034 L1560,1185"/>
<path class="cg" d="M829,1035 L1682,1185"/>
<path class="cg" d="M949,1036 L1799,1187"/>
</g>
<text x="1733" y="1403" style="font-size:22px;fill:#fff;text-anchor:middle">13</text>
</svg>
